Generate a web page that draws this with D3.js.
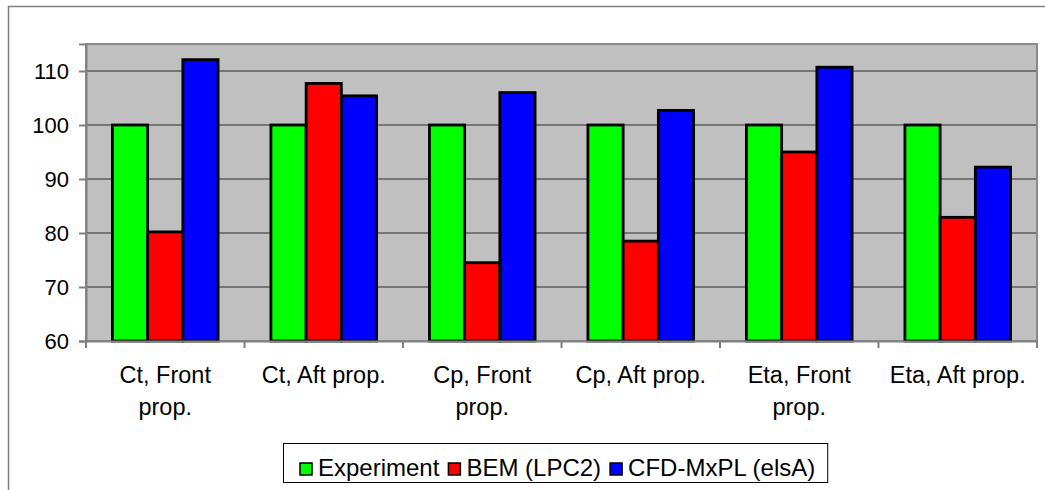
<!DOCTYPE html>
<html>
<head>
<meta charset="utf-8">
<script src="https://cdn.jsdelivr.net/npm/d3@7/dist/d3.min.js"></script>
<style>
  html, body { margin: 0; padding: 0; background: #ffffff; }
  svg { display: block; font-family: "Liberation Sans", Arial, sans-serif; }
</style>
</head>
<body>
<svg id="chart" width="1045" height="490"></svg>
<script>
// Relative performance of the contra-rotating propellers (experiment = 100)
const categories = ["Ct, Front prop.", "Ct, Aft prop.", "Cp, Front prop.", "Cp, Aft prop.", "Eta, Front prop.", "Eta, Aft prop."];
const seriesNames = ["Experiment", "BEM (LPC2)", "CFD-MxPL (elsA)"];
const experiment = [100, 100, 100, 100, 100, 100];
const bem        = [80.2, 107.7, 74.5, 78.5, 95.0, 82.9];
const cfd        = [112.1, 105.4, 106.0, 102.7, 110.7, 92.2];
const yTicks     = [60, 70, 80, 90, 100, 110];
const colors     = ["#00ff00", "#ff0000", "#0000ff"];

const values = [experiment, bem, cfd];
const svg = d3.select("#chart");

// chart-area frame
svg.append("path")
  .attr("d", "M8.5,500 L8.5,6.5 L1060,6.5")
  .attr("fill", "none").attr("stroke", "#808080").attr("stroke-width", 1.5);

const plot = { left: 86, right: 1037, top: 44, bottom: 341 };

const x = d3.scaleBand().domain(categories).range([plot.left, plot.right]).padding(0);
const cw = x.bandwidth();
const barW = cw / 4.5;            // gap width = 150% of bar width
const xs = d3.scaleBand().domain(seriesNames)
  .range([barW * 0.75, cw - barW * 0.75]).padding(0);
const y = d3.scaleLinear().domain([60, 115]).range([plot.bottom, plot.top]);

// plot background
svg.append("rect")
  .attr("x", plot.left).attr("y", plot.top)
  .attr("width", plot.right - plot.left).attr("height", plot.bottom - plot.top)
  .attr("fill", "#c0c0c0");

// horizontal gridlines
svg.append("g").selectAll("line")
  .data(yTicks.filter(t => t > 60))
  .join("line")
  .attr("x1", plot.left).attr("x2", plot.right)
  .attr("y1", d => y(d)).attr("y2", d => y(d))
  .attr("stroke", "#767676").attr("stroke-width", 2);

// plot border
svg.append("rect")
  .attr("x", plot.left).attr("y", plot.top)
  .attr("width", plot.right - plot.left).attr("height", plot.bottom - plot.top)
  .attr("fill", "none").attr("stroke", "#8a8a8a").attr("stroke-width", 2);

// bars
const groups = svg.append("g").selectAll("g")
  .data(categories)
  .join("g")
  .attr("transform", d => `translate(${x(d)},0)`);

groups.selectAll("rect")
  .data((c, i) => seriesNames.map((s, k) => ({ s, k, v: values[k][i] })))
  .join("rect")
  .attr("x", d => xs(d.s))
  .attr("width", xs.bandwidth())
  .attr("y", d => y(d.v))
  .attr("height", d => y(60) - y(d.v))
  .attr("fill", d => colors[d.k])
  .attr("stroke", "#000").attr("stroke-width", 2.8);

// y axis
const yAxis = d3.axisLeft(y).tickValues(yTicks).tickSize(7).tickPadding(10);
const gy = svg.append("g").attr("transform", `translate(${plot.left},0)`).call(yAxis);
gy.select(".domain").attr("stroke", "#808080").attr("stroke-width", 2);
gy.selectAll(".tick line").attr("stroke", "#808080").attr("stroke-width", 2);
gy.selectAll(".tick text")
  .attr("font-size", 22).attr("fill", "#000")
  .attr("font-family", "Liberation Sans, Arial, sans-serif")
  .attr("dy", "0.35em");

// x axis with ticks on category boundaries
const xAxis = d3.axisBottom(x).tickSize(0).tickFormat("");
const gx = svg.append("g").attr("transform", `translate(0,${plot.bottom})`).call(xAxis);
gx.select(".domain").attr("stroke", "#808080").attr("stroke-width", 2);
const bounds = categories.map(c => x(c)).concat([plot.right]);
svg.append("g").selectAll("line")
  .data(bounds)
  .join("line")
  .attr("x1", d => d).attr("x2", d => d)
  .attr("y1", plot.bottom).attr("y2", plot.bottom + 7)
  .attr("stroke", "#808080").attr("stroke-width", 2);

// category labels, wrapped to the category width
const labelG = svg.append("g")
  .attr("font-size", 23.5)
  .attr("text-anchor", "middle").attr("fill", "#000");
categories.forEach(c => {
  const t = labelG.append("text")
    .attr("x", x(c) + cw / 2).attr("y", 383);
  const words = c.split(" ");
  let line = [];
  let ts = t.append("tspan").attr("x", x(c) + cw / 2).attr("dy", 0);
  words.forEach(w => {
    line.push(w);
    ts.text(line.join(" "));
    if (ts.node().getComputedTextLength() > cw - 12 && line.length > 1) {
      line.pop();
      ts.text(line.join(" "));
      line = [w];
      ts = t.append("tspan").attr("x", x(c) + cw / 2).attr("dy", 32).text(w);
    }
  });
});

// legend
const legend = svg.append("g");
const lgBox = legend.append("rect")
  .attr("fill", "#fff").attr("stroke", "#000").attr("stroke-width", 1);
const lgLeft = 283;
let cx = 300;
seriesNames.forEach((s, k) => {
  legend.append("rect")
    .attr("x", cx).attr("y", 463).attr("width", 12).attr("height", 12)
    .attr("fill", colors[k]).attr("stroke", "#000").attr("stroke-width", 1.5);
  const t = legend.append("text")
    .attr("x", cx + 18).attr("y", 476)
    .attr("font-size", 24).attr("fill", "#000").text(s);
  cx = cx + 18 + t.node().getComputedTextLength() + 9;
});
lgBox.attr("x", lgLeft + 0.5).attr("y", 443.5)
  .attr("width", cx - 9 + 12 - lgLeft).attr("height", 39);
</script>
</body>
</html>
